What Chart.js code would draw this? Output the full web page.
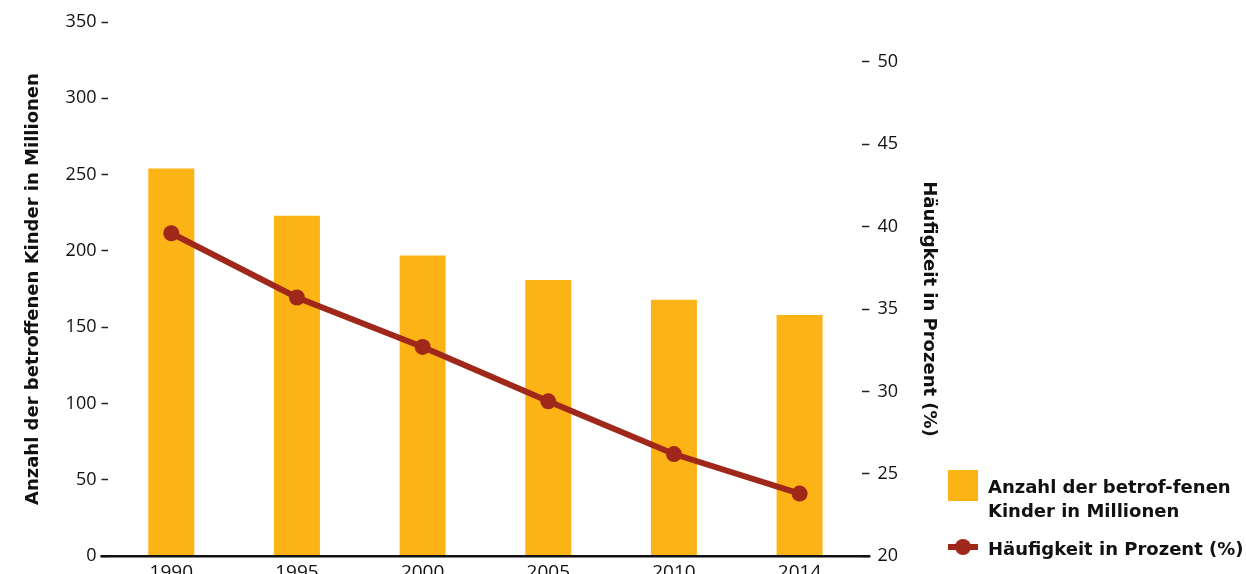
<!DOCTYPE html>
<html>
<head>
<meta charset="utf-8">
<script src="https://cdn.jsdelivr.net/npm/chart.js@4.4.1/dist/chart.umd.min.js"></script>
<style>
  html, body { margin: 0; padding: 0; background: #fff; overflow: hidden; }
  #wrap { position: relative; width: 1246px; height: 589px; }
  #legend { position: absolute; left: 0; top: 0; width: 1246px; height: 574px; pointer-events: none; font-family: "DejaVu Sans", sans-serif; font-weight: 700; font-size: 18px; color: #111; }
  .box { position: absolute; left: 948px; top: 470px; width: 30px; height: 31px; }
  .seg { position: absolute; left: 948px; top: 544px; width: 30px; height: 6px; }
  .dot { position: absolute; left: 955px; top: 539px; width: 16px; height: 16px; border-radius: 50%; }
  .txt { position: absolute; left: 988px; line-height: 24px; white-space: nowrap; }
</style>
</head>
<body>
<div id="wrap">
  <canvas id="c"></canvas>
  <div id="legend"></div>
</div>
<script>
const categories = ["1990", "1995", "2000", "2005", "2010", "2014"];
const childrenMillions = [254, 223, 197, 181, 168, 158];
const prevalencePercent = [39.6, 35.7, 32.7, 29.4, 26.2, 23.8];
const leftTicks = [0, 50, 100, 150, 200, 250, 300, 350];
const rightTicks = [20, 25, 30, 35, 40, 45, 50];
const barLabel = ["Anzahl der betrof-fenen", "Kinder in Millionen"];
const lineLabel = "Häufigkeit in Prozent (%)";
const leftTitle = "Anzahl der betroffenen Kinder in Millionen";
const rightTitle = "Häufigkeit in Prozent (%)";

const BAR_COLOR = "#FCB316";
const LINE_COLOR = "#A0281A";
const TICK_FONT = '"Open Sans", sans-serif';
const TITLE_FONT = '"DejaVu Sans", sans-serif';

const baselinePlugin = {
  id: 'baseline',
  afterDatasetsDraw(chart) {
    const {ctx, chartArea} = chart;
    const y = chart.scales.y.getPixelForValue(0);
    ctx.save();
    ctx.strokeStyle = '#111';
    ctx.lineWidth = 2.5;
    ctx.beginPath();
    ctx.moveTo(chartArea.left - 8, y);
    ctx.lineTo(chartArea.right + 8, y);
    ctx.stroke();
    ctx.restore();
  }
};

const rightTitlePlugin = {
  id: 'rightTitle',
  afterDraw(chart) {
    const s = chart.scales.y2;
    const {ctx} = chart;
    const yc = (s.getPixelForValue(rightTicks[0]) + s.getPixelForValue(rightTicks[rightTicks.length - 1])) / 2;
    const xc = chart.chartArea.right + 66;
    ctx.save();
    ctx.translate(xc, yc);
    ctx.rotate(Math.PI / 2);
    ctx.font = 'bold 18px ' + TITLE_FONT;
    ctx.fillStyle = '#111';
    ctx.textAlign = 'center';
    ctx.textBaseline = 'middle';
    ctx.fillText(rightTitle, 0, 0);
    ctx.restore();
  }
};

const chart = new Chart(document.getElementById('c'), {
  data: {
    labels: categories,
    datasets: [
      {
        type: 'line',
        label: lineLabel,
        data: prevalencePercent,
        yAxisID: 'y2',
        borderColor: LINE_COLOR,
        backgroundColor: LINE_COLOR,
        borderWidth: 6,
        pointRadius: 8,
        pointHoverRadius: 8,
        pointBorderWidth: 0,
        tension: 0,
        order: 0
      },
      {
        type: 'bar',
        label: barLabel.join(' '),
        data: childrenMillions,
        yAxisID: 'y',
        backgroundColor: BAR_COLOR,
        categoryPercentage: 1,
        barPercentage: 0.366,
        order: 1
      }
    ]
  },
  options: {
    responsive: true,
    maintainAspectRatio: false,
    animation: false,
    layout: { padding: { left: 14, right: 340, top: 22, bottom: 0 } },
    plugins: { legend: { display: false }, tooltip: { enabled: false } },
    scales: {
      x: {
        grid: { display: false, drawTicks: false },
        border: { display: false },
        ticks: { font: { family: TICK_FONT, size: 19 }, color: '#111', padding: 5, maxRotation: 0 }
      },
      y: {
        position: 'left',
        min: 0,
        max: 350,
        afterBuildTicks(axis) { axis.ticks = leftTicks.map(v => ({value: v})); },
        grid: { display: true, drawOnChartArea: false, tickLength: 7, tickColor: '#222', tickWidth: 1.5 },
        border: { display: false },
        ticks: { font: { family: TICK_FONT, size: 18 }, color: '#111', padding: 5 },
        title: { display: true, text: leftTitle, font: { family: TITLE_FONT, size: 18, weight: 'bold' }, color: '#111', padding: { top: 9, bottom: 16 } }
      },
      y2: {
        position: 'right',
        min: 20,
        max: 52.42,
        afterBuildTicks(axis) { axis.ticks = rightTicks.map(v => ({value: v})); },
        grid: { display: true, drawOnChartArea: false, tickLength: 7, tickColor: '#222', tickWidth: 1.5 },
        border: { display: false },
        ticks: { font: { family: TICK_FONT, size: 18 }, color: '#111', padding: 8 }
      }
    }
  },
  plugins: [baselinePlugin, rightTitlePlugin]
});

// HTML legend built from the datasets
const legend = document.getElementById('legend');
const barDs = chart.data.datasets[1];
const lineDs = chart.data.datasets[0];
legend.innerHTML =
  '<div class="box" style="background:' + barDs.backgroundColor + '"></div>' +
  '<div class="txt" style="top:475px">' + barLabel.join('<br>') + '</div>' +
  '<div class="seg" style="background:' + lineDs.borderColor + '"></div>' +
  '<div class="dot" style="background:' + lineDs.borderColor + '"></div>' +
  '<div class="txt" style="top:537px">' + lineDs.label + '</div>';
</script>
</body>
</html>
